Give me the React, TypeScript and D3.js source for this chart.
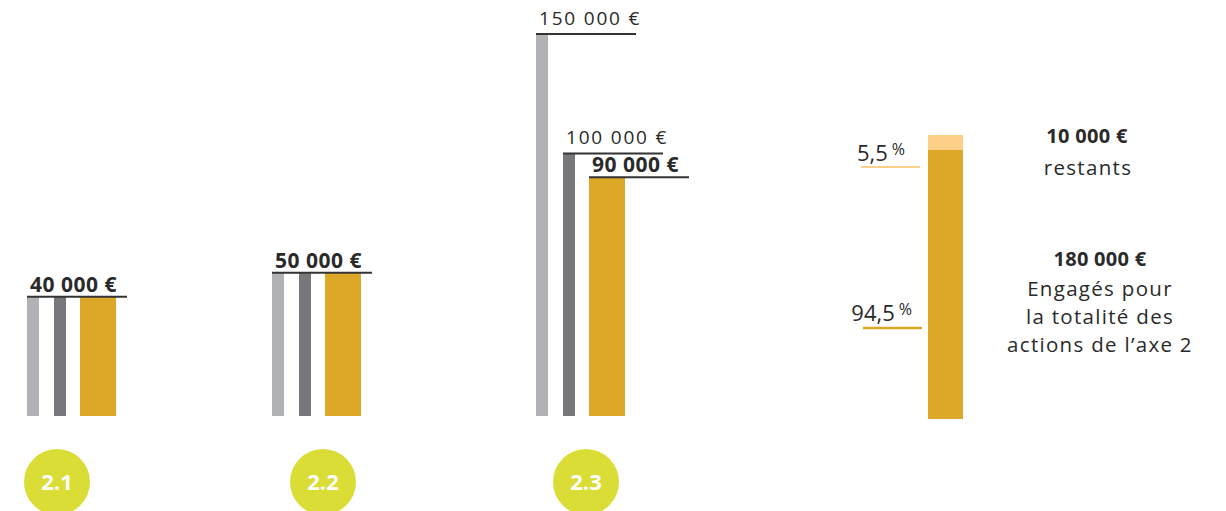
import React from "react";
import * as d3 from "d3";

const categories = ["2.1", "2.2", "2.3"];
const budgetPlanned = [40000, 50000, 150000];
const budgetRevised = [40000, 50000, 100000];
const budgetEngaged = [40000, 50000, 90000];

const totalParts = ["engagés", "restants"];
const totalValues = [180000, 10000];
const totalPercents = ["94,5", "5,5"];
const totalTexts = [
  ["180 000 €", "Engagés pour", "la totalité des", "actions de l’axe 2"],
  ["10 000 €", "restants"],
];

const W = 1226;
const H = 511;
const FONT = "'Open Sans', 'Noto Sans', sans-serif";
const C_LIGHT = "#b1b2b6";
const C_DARK = "#77787c";
const C_GOLD = "#dda728";
const C_PALE = "#fdcf88";
const C_CIRCLE = "#d9dd36";
const C_TEXT = "#2a2a2a";

const fmt = (v: number) => d3.format(",")(v).replace(/,/g, " ") + " €";

export default function App() {
  const y = d3.scaleLinear().domain([-10000, 150000]).range([416, 34]);
  const groupX = d3.scaleOrdinal<string, number>().domain(categories).range([27, 272, 536]);
  const circleX = d3.scaleOrdinal<string, number>().domain(categories).range([57, 323, 586]);
  const series = [
    { key: "planned", values: budgetPlanned, color: C_LIGHT, offset: 0, width: 12 },
    { key: "revised", values: budgetRevised, color: C_DARK, offset: 27, width: 12 },
    { key: "engaged", values: budgetEngaged, color: C_GOLD, offset: 53, width: 36 },
  ];

  const ys = d3.scaleLinear().domain([0, d3.sum(totalValues)]).range([419, 135]);
  const stack = d3.stack<any>().keys(totalParts)([
    Object.fromEntries(totalParts.map((k, i) => [k, totalValues[i]])),
  ]);
  const stackColors = [C_GOLD, C_PALE];
  const barX = 928;
  const barW = 35;
  const topY = ys(d3.sum(totalValues));

  return (
    <svg
      width={W}
      height={H}
      style={{ position: "absolute", left: 0, top: 0, display: "block", background: "#fff" }}
      fontFamily={FONT}
    >
      {categories.map((cat, gi) => {
        const gx = groupX(cat);
        const labels: { x: number; v: number; bold: boolean }[] = [];
        series.forEach((s, si) => {
          const v = s.values[gi];
          const prev = series.slice(0, si).some((p) => p.values[gi] === v);
          if (!prev) labels.push({ x: gx + s.offset, v, bold: v === budgetEngaged[gi] });
        });
        return (
          <g key={cat}>
            {series.map((s) => (
              <rect
                key={s.key}
                x={gx + s.offset}
                y={y(s.values[gi])}
                width={s.width}
                height={y(-10000) - y(s.values[gi])}
                fill={s.color}
              />
            ))}
            {labels.map((l) => (
              <g key={l.x}>
                <line x1={l.x} x2={l.x + 100} y1={y(l.v)} y2={y(l.v)} stroke="#333" strokeWidth={2} />
                <text
                  x={l.x + 3}
                  y={y(l.v) - (l.bold ? 5 : 9)}
                  fontSize={l.bold ? 21 : 19}
                  fontWeight={l.bold ? 700 : 400}
                  letterSpacing={l.bold ? 0.5 : 1.8}
                  fill={C_TEXT}
                >
                  {fmt(l.v)}
                </text>
              </g>
            ))}
            <ellipse cx={circleX(cat)} cy={482} rx={33} ry={33} fill={C_CIRCLE} />
            <text
              x={circleX(cat)}
              y={490}
              textAnchor="middle"
              fontSize={22}
              fontWeight={700}
              fill="#fff"
            >
              {cat}
            </text>
          </g>
        );
      })}

      {stack.map((layer, i) => (
        <rect
          key={layer.key}
          x={barX}
          y={ys(layer[0][1])}
          width={barW}
          height={ys(layer[0][0]) - ys(layer[0][1])}
          fill={stackColors[i]}
        />
      ))}

      <g>
        <line x1={861} x2={920} y1={topY + 32} y2={topY + 32} stroke={C_PALE} strokeWidth={2} />
        <text x={905} y={topY + 26} textAnchor="end" fontSize={22} fill={C_TEXT}>
          {totalPercents[1]}
          <tspan fontSize={16} dx={4} dy={-6}>%</tspan>
        </text>
        <line x1={863} x2={922} y1={328} y2={328} stroke={C_GOLD} strokeWidth={2.5} />
        <text x={912} y={321} textAnchor="end" fontSize={22} fill={C_TEXT}>
          {totalPercents[0]}
          <tspan fontSize={16} dx={4} dy={-6}>%</tspan>
        </text>
      </g>

      <g fill={C_TEXT} textAnchor="middle">
        <text x={1087} y={143} fontSize={20} fontWeight={700} letterSpacing={0.3}>{totalTexts[1][0]}</text>
        <text x={1088} y={175} fontSize={20.5} letterSpacing={1.3}>{totalTexts[1][1]}</text>
        <text x={1100} y={266} fontSize={20} fontWeight={700} letterSpacing={0.3}>{totalTexts[0][0]}</text>
        <text x={1100} y={296} fontSize={20.5} letterSpacing={1.3}>
          {totalTexts[0].slice(1).map((t, i) => (
            <tspan key={t} x={1100} dy={i === 0 ? 0 : 28}>{t}</tspan>
          ))}
        </text>
      </g>
    </svg>
  );
}
